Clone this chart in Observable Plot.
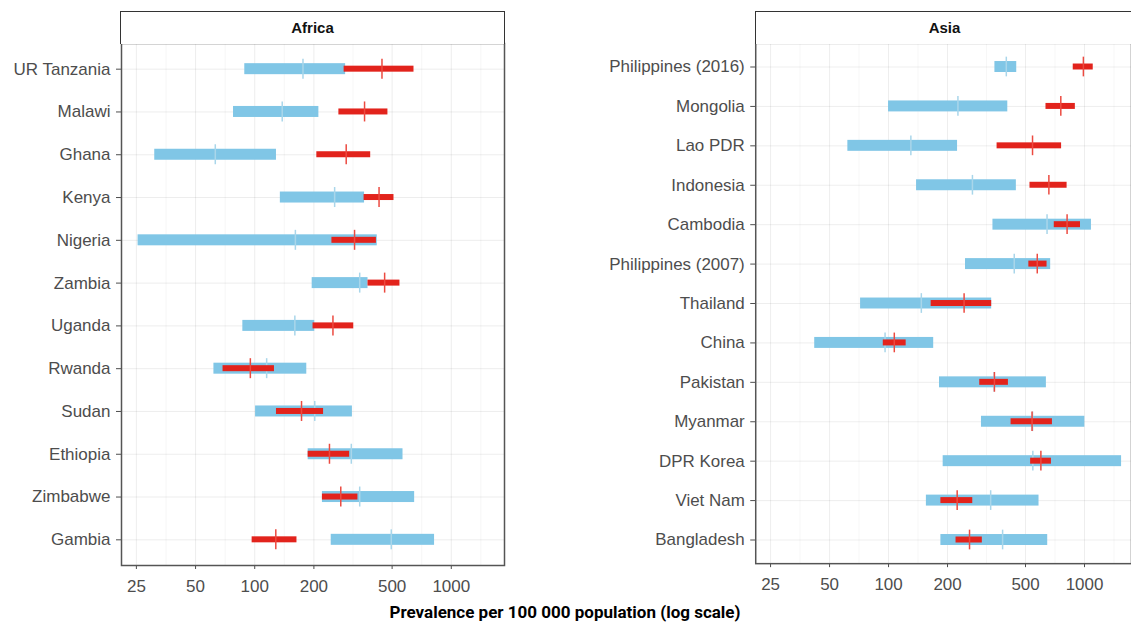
<!DOCTYPE html>
<html>
<head>
<meta charset="utf-8">
<script src="https://cdn.jsdelivr.net/npm/d3@7"></script>
<script src="https://cdn.jsdelivr.net/npm/@observablehq/plot@0.6"></script>
<style>
  html, body { margin: 0; padding: 0; background: #fff; overflow: hidden; }
  #wrap { position: relative; width: 1131px; height: 623px; overflow: hidden;
          font-family: "Liberation Sans", Arial, sans-serif; }
  .panel { position: absolute; top: 0; }
  .strip { position: absolute; top: 10.5px; height: 33px; box-sizing: border-box;
           border: 1.5px solid #333; border-bottom: none; background: #fff;
           display: flex; align-items: center; justify-content: center;
           font-weight: bold; font-size: 15px; color: #111; }
  #xtitle { position: absolute; top: 604px; left: 315px; width: 500px; text-align: center;
            font-family: "Liberation Sans Narrow", "Roboto", Arial, sans-serif;
            font-weight: bold; font-size: 17px; line-height: 17px; color: #000; white-space: nowrap; }
</style>
</head>
<body>
<div id="wrap">
  <div id="africa" class="panel"></div>
  <div id="asia" class="panel"></div>
  <div id="stripAfrica" class="strip">Africa</div>
  <div id="stripAsia" class="strip">Asia</div>
  <div id="xtitle">Prevalence per 100 000 population (log scale)</div>
</div>
<script>
// ---------- data ----------
const xTicks = [25, 50, 100, 200, 500, 1000];

const africaCountries = ["UR Tanzania", "Malawi", "Ghana", "Kenya", "Nigeria", "Zambia",
  "Uganda", "Rwanda", "Sudan", "Ethiopia", "Zimbabwe", "Gambia"];
const africaBlueLo  = [89, 78, 31, 135, 25.5, 196, 87, 62, 101, 187, 221, 245];
const africaBlueMid = [176, 138, 63, 255, 161, 342, 160, 115, 202, 310, 342, 495];
const africaBlueHi  = [290, 212, 129, 362, 420, 377, 202, 184, 314, 568, 651, 822];
const africaRedLo   = [285, 268, 207, 360, 247, 377, 198, 69, 129, 187, 221, 97];
const africaRedMid  = [444, 362, 292, 429, 322, 458, 250, 95, 173, 240, 274, 128];
const africaRedHi   = [646, 476, 389, 511, 416, 548, 319, 126, 224, 304, 335, 164];

const asiaCountries = ["Philippines (2016)", "Mongolia", "Lao PDR", "Indonesia", "Cambodia",
  "Philippines (2007)", "Thailand", "China", "Pakistan", "Myanmar", "DPR Korea", "Viet Nam", "Bangladesh"];
const asiaBlueLo  = [349, 100, 62, 139, 341, 247, 72, 42, 182, 298, 190, 156, 185];
const asiaBlueMid = [399, 226, 130, 268, 644, 438, 147, 96, 346, 543, 545, 332, 382];
const asiaBlueHi  = [451, 406, 225, 449, 1085, 672, 336, 170, 639, 1004, 1546, 586, 649];
const asiaRedLo   = [876, 636, 358, 527, 701, 520, 165, 94, 292, 422, 531, 185, 221];
const asiaRedMid  = [987, 757, 543, 658, 815, 574, 243, 107, 347, 540, 599, 224, 259];
const asiaRedHi   = [1108, 898, 764, 815, 954, 644, 336, 123, 409, 686, 678, 269, 301];

// ---------- styling ----------
const BLUE = "#80c6e6", BLUE_TICK = "#a9d6ea";
const RED = "#e2231c", RED_TICK = "#ec4a40";
const minorTicks = d3.pairs(xTicks, (a, b) => Math.sqrt(a * b))
  .concat([xTicks[xTicks.length - 1] * Math.sqrt(xTicks[xTicks.length - 1] / xTicks[xTicks.length - 2])]);

function makePanel(countries, bLo, bMid, bHi, rLo, rMid, rHi, opts) {
  const rows = countries.map((c, i) => ({
    country: c, bLo: bLo[i], bMid: bMid[i], bHi: bHi[i], rLo: rLo[i], rMid: rMid[i], rHi: rHi[i]
  }));
  const marginTop = 43, plotH = 522;
  const pIn = 0.5, pOut = 0.35;
  const step = plotH / (countries.length - pIn + 2 * pOut);
  const bw = step * (1 - pIn);
  const inset = h => Math.max(0, (bw - h) / 2);
  return Plot.plot({
    width: opts.width,
    height: marginTop + plotH + 34,
    marginTop,
    marginBottom: 34,
    marginLeft: opts.marginLeft,
    marginRight: opts.marginRight,
    style: { fontFamily: "'Liberation Sans', Arial, sans-serif", fontSize: "17px", color: "#4d4d4d",
             background: "transparent", overflow: "visible" },
    x: { type: "log", domain: opts.domain, ticks: xTicks, tickFormat: d => String(d),
         tickSize: 4, tickPadding: 10, grid: true, label: null },
    y: { type: "band", domain: countries, paddingInner: pIn, paddingOuter: pOut, round: false,
         tickSize: 5, tickPadding: 6, grid: true, label: null },
    marks: [
      Plot.ruleX(minorTicks.filter(v => v > opts.domain[0] && v < opts.domain[1]),
                 { stroke: "#4d4d4d", strokeOpacity: 0.05 }),
      Plot.barX(rows, { y: "country", x1: "bLo", x2: "bHi", fill: BLUE,
                        insetTop: inset(11), insetBottom: inset(11) }),
      Plot.tickX(rows, { y: "country", x: "bMid", stroke: BLUE_TICK, strokeWidth: 1.5,
                         insetTop: inset(20), insetBottom: inset(20) }),
      Plot.barX(rows, { y: "country", x1: "rLo", x2: "rHi", fill: RED,
                        insetTop: inset(6), insetBottom: inset(6) }),
      Plot.tickX(rows, { y: "country", x: "rMid", stroke: RED_TICK, strokeWidth: 1.5,
                         insetTop: inset(20), insetBottom: inset(20) }),
      Plot.frame({ stroke: "#555", strokeWidth: 1.5 })
    ]
  });
}

// Africa panel: plot area x 121..504
const afLeft = 0, afML = 121, afMR = 2, afW = 506;
document.getElementById("africa").style.left = afLeft + "px";
document.getElementById("africa").appendChild(
  makePanel(africaCountries, africaBlueLo, africaBlueMid, africaBlueHi,
            africaRedLo, africaRedMid, africaRedHi,
            { width: afW, marginLeft: afML, marginRight: afMR, domain: [21, 1865] }));

// Asia panel: plot area x 756..1133 (cropped at the page edge)
const asLeft = 516, asML = 240, asMR = 0, asW = 617;
document.getElementById("asia").style.left = asLeft + "px";
document.getElementById("asia").appendChild(
  makePanel(asiaCountries, asiaBlueLo, asiaBlueMid, asiaBlueHi,
            asiaRedLo, asiaRedMid, asiaRedHi,
            { width: asW, marginLeft: asML, marginRight: asMR, domain: [21, 1737] }));

const sA = document.getElementById("stripAfrica");
sA.style.left = (afLeft + afML - 0.75) + "px";
sA.style.width = (afW - afML - afMR + 1.5) + "px";
const sB = document.getElementById("stripAsia");
sB.style.left = (asLeft + asML - 0.75) + "px";
sB.style.width = (asW - asML - asMR + 1.5) + "px";
</script>
</body>
</html>
